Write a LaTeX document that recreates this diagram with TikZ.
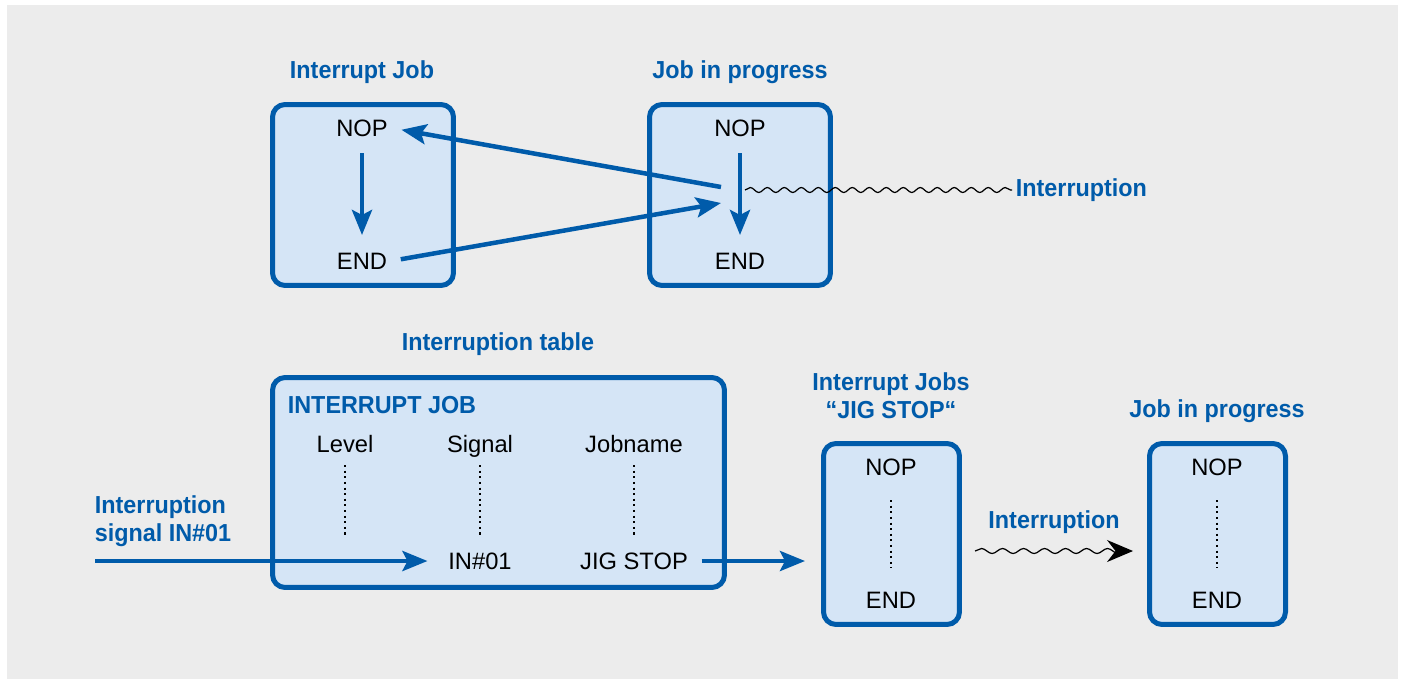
\documentclass[tikz,border=0pt]{standalone}
\usepackage{fontspec}
\setmainfont{Liberation Sans}
\newfontfamily\headfont{Liberation Sans}[FakeStretch=0.95]
\usetikzlibrary{arrows.meta,decorations.pathmorphing}
\definecolor{jobblue}{HTML}{005BAA}
\definecolor{jobfill}{HTML}{D5E5F6}
\definecolor{bggray}{HTML}{ECECEC}

\begin{document}
\begin{tikzpicture}[x=0.02cm,y=-0.02cm,
  every node/.style = {font=\fontsize{13.5}{15}\selectfont, inner sep=2pt},
  jobbox/.style = {draw=jobblue, fill=jobfill, line width=0.1cm,
    rounded corners=0.25cm, inner sep=0pt},
  title/.style = {text=jobblue, align=center,
    font=\headfont\bfseries\fontsize{14}{16}\selectfont},
  flow/.style = {draw=jobblue, line width=0.09cm,
    -{Stealth[length=0.5cm,width=0.4cm,inset=0.1cm]}},
  wave/.style = {decorate, line width=0.7pt, decoration={snake,
    amplitude=0.05cm, segment length=0.34cm}},
  dots/.style = {dotted, line width=1.2pt}]
  \useasboundingbox (0,0) rectangle (1403,681);
  \fill[bggray] (7,5) rectangle (1398,679);

  % upper part
  \node[title] (t1) at (362,72) {Interrupt Job};
  \node[jobbox, minimum width=3.62cm, minimum height=3.62cm] (ijob) at (363,195) {};
  \node (nop1) at (362,128) {NOP};
  \node (end1) at (362,261) {END};
  \node[title] (t2) at (740,72) {Job in progress};
  \node[jobbox, minimum width=3.62cm, minimum height=3.62cm] (pjob) at (740,195) {};
  \node (nop2) at (740,128) {NOP};
  \node (end2) at (740,261) {END};
  \node[title, anchor=west] (intr1) at (1012,190) {Interruption};
  \coordinate (back) at (721,187);
  \coordinate (ret) at (721,203);
  \coordinate (wstart) at (745,190);

  \draw[flow, shorten <=0.26cm, shorten >=0.28cm] (nop1) -- (end1);
  \draw[flow, shorten <=0.26cm, shorten >=0.28cm] (nop2) -- (end2);
  \draw[flow, shorten >=0.2cm] (back) -- (nop1.east);
  \draw[flow, shorten <=0.2cm] (end1.east) -- (ret);
  \draw[wave] (wstart) -- (intr1.west);

  % lower part
  \node[title] (t3) at (498,344) {Interruption table};
  \node[jobbox, minimum width=9.04cm, minimum height=4.2cm] (itab) at (498.5,482.5) {};
  \node[title, anchor=west] (head) at (284,405) {INTERRUPT JOB};
  \foreach \x/\name/\lbl in {345/lev/Level, 480/sig/Signal, 634/job/Jobname} {
    \node[anchor=base] (\name) at (\x,452) {\lbl};
    \draw[dots] (\x,465) -- (\x,535);
  }
  \node (in01) at (480,561) {IN\#01};
  \node (jig) at (634,561) {JIG STOP};
  \node[title, anchor=west, align=left] (sigtxt) at (91,521) {Interruption\\signal IN\#01};
  \coordinate (sigin) at (95,561);

  \node[title] (t4) at (891,396) {Interrupt Jobs\\“JIG STOP“};
  \node[jobbox, minimum width=2.72cm, minimum height=3.62cm] (ijs) at (891.5,534) {};
  \node (nop3) at (891,467) {NOP};
  \node (end3) at (891,600) {END};
  \node[title] (t5) at (1217,411) {Job in progress};
  \node[jobbox, minimum width=2.72cm, minimum height=3.62cm] (pbox) at (1217.5,534) {};
  \node (nop4) at (1217,467) {NOP};
  \node (end4) at (1217,600) {END};
  \foreach \x in {891,1217}
    \draw[dots] (\x,500) -- (\x,568);
  \node[title] (intr2) at (1054,522) {Interruption};
  \coordinate (w2start) at (975,551);

  \draw[flow, shorten >=0.34cm] (sigin) -- (in01.west);
  \draw[flow, shorten <=0.2cm, shorten >=0.32cm] (jig.east) -- (jig -| ijs.west);
  \draw[wave, decoration={segment length=0.42cm, post length=0.4cm},
    -{Stealth[length=0.52cm,width=0.44cm]}, shorten >=0.28cm]
    (w2start) -- (w2start -| pbox.west);
\end{tikzpicture}
\end{document}
